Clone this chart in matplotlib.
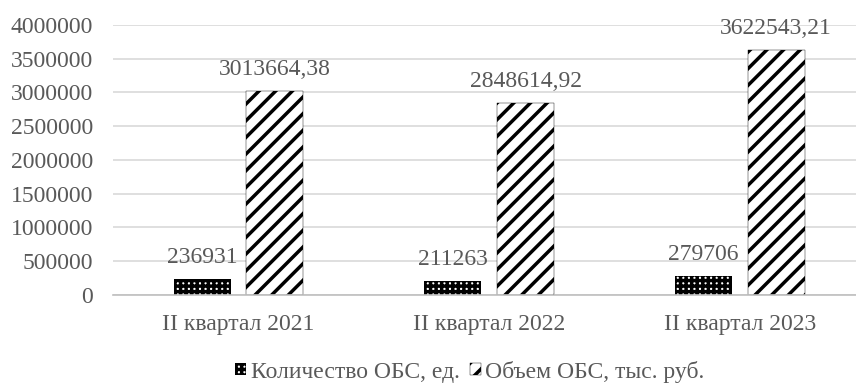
import numpy as np
import matplotlib.pyplot as plt

plt.rcParams['font.family'] = ['Liberation Serif', 'DejaVu Serif']
plt.rcParams['hatch.linewidth'] = 2.5

quarters = ['II квартал 2021', 'II квартал 2022', 'II квартал 2023']
count_obs = [236931, 211263, 279706]
volume_obs = [3013664.38, 2848614.92, 3622543.21]
count_labels = ['236931', '211263', '279706']
volume_labels = ['3013664,38', '2848614,92', '3622543,21']

gray = '#595959'
fs = 17
x = np.arange(len(quarters))
w = 0.228

fig, ax = plt.subplots(figsize=(8.56, 3.83), dpi=100)
# правый край оси чуть за пределами картинки, как в оригинале
fig.subplots_adjust(left=0.132, right=1.0105, top=0.935, bottom=0.23)

b1 = ax.bar(x - 0.144, count_obs, w, facecolor='white', edgecolor='black',
            hatch='+++', linewidth=0, label='Количество ОБС, ед.')
b2 = ax.bar(x + 0.146, volume_obs, w, facecolor='white', edgecolor='black',
            hatch='//', linewidth=0.3, label='Объем ОБС, тыс. руб.')

for rect, txt in zip(b1, count_labels):
    ax.annotate(txt, (rect.get_x() + rect.get_width() / 2, rect.get_height()),
                xytext=(0, 8), textcoords='offset points', ha='center', va='bottom',
                fontsize=fs, color=gray)
for rect, txt in zip(b2, volume_labels):
    ax.annotate(txt, (rect.get_x() + rect.get_width() / 2, rect.get_height()),
                xytext=(0, 8), textcoords='offset points', ha='center', va='bottom',
                fontsize=fs, color=gray)

ax.set_xlim(-0.5, 2.5)
ax.set_ylim(0, 4000000)
ax.set_yticks(np.arange(0, 4000001, 500000))
ax.set_yticklabels([str(v) for v in range(0, 4000001, 500000)])
ax.set_xticks(x)
ax.set_xticklabels(quarters)
ax.tick_params(axis='both', length=0, labelsize=fs, labelcolor=gray)
ax.tick_params(axis='x', pad=14)
ax.tick_params(axis='y', pad=14.5)
ax.grid(axis='y', color='#d9d9d9', linewidth=1.2)
ax.set_axisbelow(True)
for s in ['top', 'right', 'left']:
    ax.spines[s].set_visible(False)
ax.spines['bottom'].set_color('#bfbfbf')
ax.spines['bottom'].set_linewidth(1.2)

fig.legend(loc='center', bbox_to_anchor=(0.549, 0.03), ncol=2, frameon=False,
           fontsize=fs, labelcolor=gray, handlelength=0.45, handleheight=0.45,
           handletextpad=0.2, columnspacing=0.45, borderpad=0, borderaxespad=0)

fig.savefig('out.png', dpi=100)
